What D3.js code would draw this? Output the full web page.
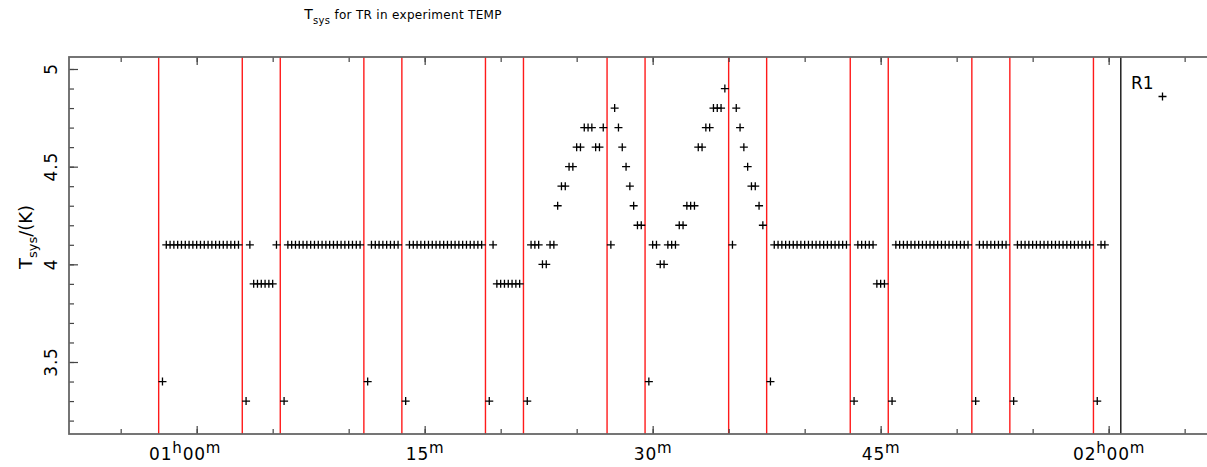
<!DOCTYPE html>
<html>
<head>
<meta charset="utf-8">
<script src="https://cdn.jsdelivr.net/npm/d3@7"></script>
<style>
  body { margin: 0; background: #fff; }
  text { font-family: "DejaVu Sans", sans-serif; fill: #000; }
</style>
</head>
<body>
<div class="canvas"></div>
<script>
// times in minutes after 00h00m, one sample per 15 s integration
const sampleStep = 0.25

// first sample time of each scan / gap
const segStart = [57.75, 63.25, 65.75, 71.25, 73.75, 79.25, 81.75, 87.25,
  89.75, 95.25, 97.75, 103.25, 105.75, 111.25, 113.75, 119.25]

// Tsys values (K), per segment
const segValues = [
  [3.4, 4.1, 4.1, 4.1, 4.1, 4.1, 4.1, 4.1, 4.1, 4.1, 4.1, 4.1, 4.1, 4.1, 4.1, 4.1, 4.1, 4.1, 4.1, 4.1, 4.1],
  [3.3, 4.1, 3.9, 3.9, 3.9, 3.9, 3.9, 3.9, 4.1],
  [3.3, 4.1, 4.1, 4.1, 4.1, 4.1, 4.1, 4.1, 4.1, 4.1, 4.1, 4.1, 4.1, 4.1, 4.1, 4.1, 4.1, 4.1, 4.1, 4.1, 4.1],
  [3.4, 4.1, 4.1, 4.1, 4.1, 4.1, 4.1, 4.1, 4.1],
  [3.3, 4.1, 4.1, 4.1, 4.1, 4.1, 4.1, 4.1, 4.1, 4.1, 4.1, 4.1, 4.1, 4.1, 4.1, 4.1, 4.1, 4.1, 4.1, 4.1, 4.1],
  [3.3, 4.1, 3.9, 3.9, 3.9, 3.9, 3.9, 3.9, 3.9],
  [3.3, 4.1, 4.1, 4.1, 4.0, 4.0, 4.1, 4.1, 4.3, 4.4, 4.4, 4.5, 4.5, 4.6, 4.6, 4.7, 4.7, 4.7, 4.6, 4.6, 4.7],
  [4.1, 4.8, 4.7, 4.6, 4.5, 4.4, 4.3, 4.2, 4.2],
  [3.4, 4.1, 4.1, 4.0, 4.0, 4.1, 4.1, 4.1, 4.2, 4.2, 4.3, 4.3, 4.3, 4.6, 4.6, 4.7, 4.7, 4.8, 4.8, 4.8, 4.9],
  [4.1, 4.8, 4.7, 4.6, 4.5, 4.4, 4.4, 4.3, 4.2],
  [3.4, 4.1, 4.1, 4.1, 4.1, 4.1, 4.1, 4.1, 4.1, 4.1, 4.1, 4.1, 4.1, 4.1, 4.1, 4.1, 4.1, 4.1, 4.1, 4.1, 4.1],
  [3.3, 4.1, 4.1, 4.1, 4.1, 4.1, 3.9, 3.9, 3.9],
  [3.3, 4.1, 4.1, 4.1, 4.1, 4.1, 4.1, 4.1, 4.1, 4.1, 4.1, 4.1, 4.1, 4.1, 4.1, 4.1, 4.1, 4.1, 4.1, 4.1, 4.1],
  [3.3, 4.1, 4.1, 4.1, 4.1, 4.1, 4.1, 4.1, 4.1],
  [3.3, 4.1, 4.1, 4.1, 4.1, 4.1, 4.1, 4.1, 4.1, 4.1, 4.1, 4.1, 4.1, 4.1, 4.1, 4.1, 4.1, 4.1, 4.1, 4.1, 4.1],
  [3.3, 4.1, 4.1]
]

// scan boundaries (red) and the legend divider (black)
const redLines = [57.5, 63, 65.5, 71, 73.5, 79, 81.5, 87, 89.5, 95, 97.5, 103, 105.5, 111, 113.5, 119]
const legendLine = 120.8

const xMinorTicks = [55, 60, 65, 70, 75, 80, 85, 90, 95, 100, 105, 110, 115, 120, 125]
const xMajorTicks = [60, 75, 90, 105, 120]
const xTickLabels = ['01^h00^m', '15^m', '30^m', '45^m', '02^h00^m']
const yMinorTicks = d3.range(32, 51).map(d => d / 10)
const yMajorTicks = [3.5, 4, 4.5, 5]
const yTickLabels = ['3.5', '4', '4.5', '5']

const data = segStart.flatMap((s, i) =>
  segValues[i].map((v, j) => ({t: s + j * sampleStep, v: v})))

const svg = d3.select('.canvas')
  .append('svg')
    .attr('width', 1207)
    .attr('height', 467)

const plot = {left: 69, right: 1212, top: 57, bottom: 434}

const x = d3.scaleLinear()
  .domain([51.6, 126.8])
  .range([plot.left, plot.right])

const y = d3.scaleLinear()
  .domain([3.1314, 5.0614])
  .range([plot.bottom, plot.top])

// scan boundary lines
svg.append('g').selectAll('line')
  .data(redLines)
  .enter().append('line')
    .attr('x1', d => x(d)).attr('x2', d => x(d))
    .attr('y1', plot.top).attr('y2', plot.bottom)
    .attr('stroke', '#ff1a1a')
    .attr('stroke-width', 1.4)

svg.append('line')
  .attr('x1', x(legendLine)).attr('x2', x(legendLine))
  .attr('y1', plot.top).attr('y2', plot.bottom)
  .attr('stroke', '#111')
  .attr('stroke-width', 1.4)

// axes, ticks drawn inward
const tickStyle = g => {
  g.select('.domain').remove()
  g.selectAll('.tick line').attr('stroke', '#444').attr('stroke-width', 1.2)
}

svg.append('g')
  .attr('transform', `translate(0,${plot.bottom})`)
  .call(d3.axisBottom(x).tickValues(xMinorTicks).tickSizeInner(-5).tickSizeOuter(0).tickFormat(''))
  .call(tickStyle)
svg.append('g')
  .attr('transform', `translate(0,${plot.top})`)
  .call(d3.axisTop(x).tickValues(xMinorTicks).tickSizeInner(-5).tickSizeOuter(0).tickFormat(''))
  .call(tickStyle)
svg.append('g')
  .attr('transform', `translate(0,${plot.top})`)
  .call(d3.axisTop(x).tickValues(xMajorTicks).tickSizeInner(-8).tickSizeOuter(0).tickFormat(''))
  .call(tickStyle)

const xMajor = svg.append('g')
  .attr('transform', `translate(0,${plot.bottom})`)
  .call(d3.axisBottom(x).tickValues(xMajorTicks).tickSizeInner(-8).tickSizeOuter(0)
    .tickFormat((d, i) => xTickLabels[i]))
  .call(tickStyle)

// rebuild the labels with raised h / m
xMajor.selectAll('.tick text')
  .attr('y', 26)
  .attr('dy', null)
  .attr('font-size', 17)
  .attr('font-family', '"DejaVu Sans", sans-serif')
  .attr('letter-spacing', 0.8)
  .attr('dx', (d, i) => i === 0 ? -12 : 0)
  .each(function(label) {
    const txt = d3.select(this)
    const parts = txt.text().split(/(\^.)/).filter(s => s)
    txt.text('')
    let raised = false
    parts.forEach(p => {
      if (p[0] === '^') {
        txt.append('tspan').attr('font-size', 15).attr('dy', -7).text(p[1])
        raised = true
      } else {
        const ts = txt.append('tspan').text(p)
        if (raised) ts.attr('dy', 7)
        raised = false
      }
    })
  })

svg.append('g')
  .attr('transform', `translate(${plot.left},0)`)
  .call(d3.axisLeft(y).tickValues(yMinorTicks).tickSizeInner(-5).tickSizeOuter(0).tickFormat(''))
  .call(tickStyle)
svg.append('g')
  .attr('transform', `translate(${plot.left},0)`)
  .call(d3.axisLeft(y).tickValues(yMajorTicks).tickSizeInner(-9).tickSizeOuter(0).tickFormat(''))
  .call(tickStyle)

svg.append('g').selectAll('text')
  .data(yMajorTicks)
  .enter().append('text')
    .attr('transform', d => `translate(57,${y(d)}) rotate(-90)`)
    .attr('text-anchor', 'middle')
    .attr('font-size', 17)
    .attr('letter-spacing', 0.8)
    .text((d, i) => yTickLabels[i])

// frame
svg.append('rect')
  .attr('x', plot.left).attr('y', plot.top)
  .attr('width', plot.right - plot.left)
  .attr('height', plot.bottom - plot.top)
  .attr('fill', 'none')
  .attr('stroke', '#666')
  .attr('stroke-width', 1.8)

// data points as plus signs
const plus = 'M-4,0H4M0,-4V4'
svg.append('g').selectAll('path')
  .data(data)
  .enter().append('path')
    .attr('d', plus)
    .attr('transform', d => `translate(${x(d.t)},${y(d.v)})`)
    .attr('stroke', '#000')
    .attr('stroke-width', 1.3)
    .attr('fill', 'none')

// legend
svg.append('text')
  .attr('x', 1131).attr('y', 89)
  .attr('font-size', 17)
  .text('R1')
svg.append('path')
  .attr('d', plus)
  .attr('transform', 'translate(1162.5,96.5)')
  .attr('stroke', '#000')
  .attr('stroke-width', 1.3)

// y axis title
const yTitle = svg.append('text')
  .attr('transform', 'translate(32,237) rotate(-90)')
  .attr('text-anchor', 'middle')
  .attr('font-size', 18)
yTitle.append('tspan').text('T')
yTitle.append('tspan').attr('font-size', 13).attr('dy', 5).text('sys')
yTitle.append('tspan').attr('dy', -5).text('/(K)')

// title
const title = svg.append('text')
  .attr('x', 403).attr('y', 19)
  .attr('text-anchor', 'middle')
  .attr('font-size', 12)
  .attr('letter-spacing', 0.3)
title.append('tspan').attr('font-size', 14).text('T')
title.append('tspan').attr('font-size', 10).attr('dy', 5).text('sys')
title.append('tspan').attr('dy', -5).text(' for TR in experiment TEMP')
</script>
</body>
</html>
